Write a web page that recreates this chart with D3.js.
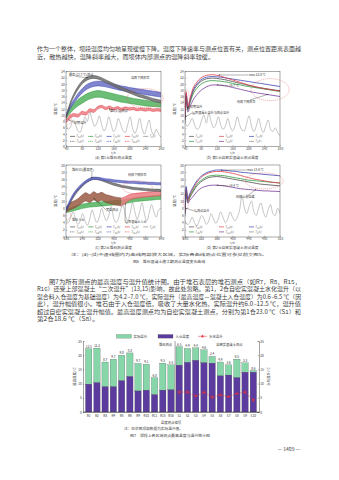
<!DOCTYPE html>
<html><head><meta charset="utf-8">
<script src="https://cdn.jsdelivr.net/npm/d3@7"></script>
<style>body{margin:0;background:#fff}svg{display:block}</style>
</head><body><svg id="c" width="339" height="480"></svg>
<script>
// ---------- DATA ----------
const tA = [40,50,60,70,80,90,100,110,120,130,140,150,160,170,180,190,200,210,220,230,240,250,260,270,280];
const aGrayHi = [9.4,13.9,16.9,19.2,20.9,22.0,22.6,22.7,22.5,22.0,21.4,20.8,20.2,19.6,19.0,18.5,18.0,17.5,17.0,16.6,16.2,15.8,15.4,15.1,14.8];
const aGrayLo = [8.6,13.0,16.0,18.2,19.9,21.0,21.6,21.8,21.6,21.1,20.5,19.9,19.3,18.7,18.1,17.6,17.1,16.6,16.1,15.7,15.3,14.9,14.5,14.2,13.9];
const aBlueHi = [10.4,13.0,15.0,16.9,18.4,19.6,20.3,20.7,20.9,20.8,20.6,20.3,20.0,19.7,19.4,19.2,18.9,18.7,18.5,18.3,18.1,17.9,17.7,17.5,17.3];
const aBlueLo = [9.6,12.0,13.9,15.6,17.0,18.1,18.8,19.2,19.4,19.3,19.1,18.8,18.5,18.2,17.9,17.7,17.4,17.2,17.0,16.8,16.6,16.4,16.2,16.0,15.8];
const aGreenHi = [10.0,12.2,13.8,15.0,15.9,16.7,17.3,17.7,17.9,17.8,17.5,17.2,16.9,16.6,16.3,16.0,15.7,15.4,15.2,15.0,14.8,14.6,14.4,14.2,14.1];
const aGreenLo = [9.0,10.6,11.9,13.0,13.8,14.6,15.2,15.6,15.8,15.7,15.4,15.1,14.8,14.5,14.2,14.0,13.8,13.6,13.4,13.2,13.0,12.9,12.8,12.7,12.6];
const aRedHi = [8.4,10.0,10.6,10.3,11.3,11.0,12.1,11.8,12.8,13.2,12.6,13.0,12.4,12.8,12.3,12.7,12.4,12.6,12.2,12.4,12.1,12.3,12.0,12.2,12.0];
const aRedLo = [7.6,9.0,9.7,9.4,10.3,10.0,11.1,10.9,12.0,12.4,11.8,12.2,11.6,12.0,11.5,11.9,11.6,11.8,11.4,11.6,11.3,11.5,11.2,11.4,11.2];
const tAir = [40,46,52,58,64,70,76,82,88,94,100,106,112,118,124,130,136,142,148,154,160,166,172,178,184,190,196,202,208,214,220,226,232,238,244,250,256,262,268,274,280];
const aAir = [7.0,5.5,6.5,8.5,7.0,5.0,4.5,7.0,9.5,8.0,11.0,8.5,6.5,7.5,9.8,7.0,5.0,6.5,9.5,7.0,4.8,6.0,9.0,7.2,5.0,4.5,7.0,9.5,6.0,4.2,6.0,9.0,5.8,4.0,6.2,8.5,5.0,3.8,5.5,4.0,3.0];

const tB = [40,43,47,52,60,70,80,90,100,110,120,130,140,150,160,170,180,190,200,210,220,230,240,250,260,270,280];
const bRed = [9.0,17.5,12.5,15.0,18.5,20.6,21.9,22.6,22.9,23.0,22.8,22.5,22.1,21.7,21.3,20.9,20.5,20.1,19.7,19.4,19.1,18.8,18.5,18.3,18.1,17.9,17.7];
const bBlue = [8.8,17.0,12.2,14.6,17.9,20.0,21.3,22.0,22.3,22.4,22.3,22.2,22.0,21.8,21.6,21.4,21.2,21.0,20.8,20.6,20.4,20.2,20.0,19.8,19.6,19.4,19.2];
const bGray = [8.6,16.5,12.0,14.2,17.4,19.5,20.8,21.5,21.8,21.9,21.8,21.6,21.4,21.1,20.8,20.5,20.2,19.9,19.6,19.3,19.0,18.8,18.6,18.4,18.2,18.0,17.9];
const bGreen = [8.4,16.0,11.6,13.7,16.6,18.6,19.9,20.6,21.0,21.1,21.0,20.9,20.7,20.5,20.2,19.9,19.7,19.4,19.2,19.0,18.8,18.6,18.4,18.2,18.0,17.8,17.6];
const bPurple = [8.0,15.0,11.0,12.5,14.8,16.6,17.9,18.8,19.4,19.7,19.7,19.6,19.4,19.2,18.9,18.6,18.3,18.0,17.7,17.4,17.2,17.0,16.8,16.6,16.4,16.2,16.0];
const bAir = [8.0,6.5,7.5,9.0,7.0,5.5,6.0,8.5,10.0,7.5,10.5,8.0,6.0,7.0,9.5,7.0,5.5,6.5,9.0,6.5,5.0,6.5,9.5,7.0,5.2,5.0,7.5,9.8,6.5,4.8,6.5,9.0,6.0,4.5,6.5,8.5,5.5,4.8,6.0,4.5,3.5];

const tC = [160,180,200,220,240,260,280,300,320,340,360,380,400,420,440,460,480,500,520,540,560,580,600,620,640];
const cGrayHi = [7.3,9.8,11.8,13.3,14.5,15.5,16.2,16.6,16.5,16.2,15.8,15.4,15.0,14.7,14.4,14.2,14.0,13.8,13.7,13.6,13.5,13.4,13.3,13.3,13.2];
const cGrayLo = [6.7,9.2,11.2,12.7,13.9,14.9,15.6,16.0,15.9,15.6,15.2,14.8,14.4,14.1,13.8,13.6,13.4,13.2,13.1,13.0,12.9,12.8,12.7,12.7,12.6];
const cBlueHi = [7.8,10.3,12.3,13.7,14.8,15.7,16.3,16.6,16.6,16.4,16.2,16.1,15.9,15.8,15.7,15.6,15.5,15.5,15.4,15.3,15.3,15.2,15.2,15.1,15.1];
const cBlueLo = [7.2,9.7,11.7,13.1,14.2,15.1,15.7,16.0,16.0,15.8,15.6,15.5,15.3,15.2,15.1,15.0,14.9,14.9,14.8,14.7,14.7,14.6,14.6,14.5,14.5];
const cGreenHi = [7.6,8.0,8.4,8.8,9.1,9.3,9.5,9.6,9.7,9.8,9.9,10.0,10.1,10.2,10.3,10.5,10.7,10.9,11.1,11.2,11.3,11.4,11.5,11.6,11.7];
const cGreenLo = [6.8,7.0,7.3,7.6,7.9,8.1,8.3,8.4,8.5,8.6,8.7,8.8,8.9,9.0,9.1,9.3,9.5,9.7,9.9,10.0,10.1,10.2,10.3,10.4,10.5];
const tCBrown = [160,180,200,220,240,260,280,300,320,340,360,380,400,420,440];
const cBrownHi = [8.2,9.5,10.0,10.6,11.6,12.3,11.8,12.6,12.0,12.4,11.8,11.5,11.2,11.0,10.8];
const cBrownLo = [7.0,7.6,8.0,8.6,9.4,10.0,9.6,10.3,9.8,10.2,9.6,9.3,9.0,8.8,8.6];
const tCRed = [440,460,480,500,520,540,560,580,600,620,640];
const cRedHi = [10.8,11.2,11.8,12.0,12.2,12.3,12.4,12.5,12.6,12.7,12.8];
const cRedLo = [8.6,9.4,10.2,10.6,10.8,11.0,11.1,11.2,11.3,11.4,11.5];
const tCAir = [160,172,184,196,208,220,232,244,256,268,280,292,304,316,328,340,352,364,376,388,400,412,424,436,448,460,472,484,496,508,520,532,544,556,568,580,592,604,616,628,640];
const cAir = [5.0,4.0,5.5,7.0,5.0,3.5,4.5,6.5,4.5,3.2,5.0,7.5,5.5,4.0,5.5,8.0,6.0,4.5,6.0,8.5,5.5,4.0,5.0,7.5,9.0,6.0,4.5,6.5,9.5,7.0,5.0,7.0,9.5,6.5,4.5,6.5,9.0,7.0,5.5,7.5,8.0];

const tD = [280,283,287,292,300,310,320,330,340,350,360,370,380,390,400,410,420,430,440,450,460,470,480,490,500,510,520];
const dBlue = [7.0,14.0,10.5,12.0,13.8,15.6,16.8,17.6,18.1,18.4,18.6,18.6,18.5,18.4,18.3,18.2,18.0,17.9,17.8,17.7,17.6,17.5,17.4,17.3,17.2,17.1,17.0];
const dRed = [6.8,13.5,10.2,11.6,13.4,15.2,16.5,17.3,17.8,18.1,18.2,18.2,18.1,17.9,17.7,17.4,17.1,16.8,16.5,16.2,16.0,15.8,15.6,15.4,15.2,15.1,15.0];
const dGreen = [6.6,13.0,10.0,11.2,12.9,14.6,15.7,16.4,16.9,17.1,17.2,17.1,17.0,16.8,16.6,16.4,16.2,16.0,15.8,15.7,15.6,15.5,15.4,15.3,15.2,15.1,15.0];
const dGray = [6.4,12.5,9.8,10.9,12.5,14.2,15.3,16.0,16.5,16.7,16.8,16.7,16.5,16.3,16.1,15.9,15.7,15.5,15.3,15.1,14.9,14.7,14.6,14.5,14.4,14.3,14.2];
const dPurple = [6.0,11.5,9.4,10.2,11.2,12.6,13.5,14.0,14.3,14.4,14.4,14.3,14.2,14.0,13.8,13.6,13.4,13.3,13.2,13.1,13.0,12.9,12.8,12.8,12.7,12.7,12.6];
const tDAir = [280,286,292,298,304,310,316,322,328,334,340,346,352,358,364,370,376,382,388,394,400,406,412,418,424,430,436,442,448,454,460,466,472,478,484,490,496,502,508,514,520];
const dAir = [4.5,3.5,4.0,5.5,4.0,3.0,4.5,6.0,5.0,3.5,4.5,6.5,5.0,3.8,5.0,7.0,5.5,4.0,5.0,7.0,5.5,4.5,5.5,7.5,11.5,8.0,6.5,8.5,10.0,7.0,6.0,8.0,9.5,7.0,5.5,7.5,9.0,6.5,6.0,8.0,6.5];

const xTicksA = [40,80,120,160,200,240,280];
const xTicksC = [160,240,320,400,480,560,640];
const xTicksD = [280,320,360,400,440,480,520];
const yTicksA = [0,2,4,6,8,10,12,14,16,18,20,22,24];
const yTicksC = [0,2,4,6,8,10,12,14,16,18,20];

const barCats = ['R1','R2','R3','R4','R5','R6','R9','R10','R11','R15','R16','S1','S2','S3','S4','S5','S6','S7','S8','S9','S10'];
const barInlet = [9.8,10.3,8.9,8.9,11.0,12.5,7.4,7.7,6.1,7.7,7.8,16.5,17.5,18.2,17.3,17.2,12.7,13.0,12.1,14.0,14.0];
const barRise = [12.5,12.2,8.7,9.7,9.0,8.3,9.7,9.1,6.0,9.5,8.8,6.5,4.9,4.4,4.6,2.4,4.9,3.6,6.5,3.3,0.6];
const hydroCats = ['S1','S2','S3','S4','S5','S6','S7','S8','S9','S10'];
const hydroRise = [7.0,7.0,5.6,6.9,5.2,6.0,5.4,6.5,7.0,4.2];
const barTicks = [0,5,10,15,20,25];

// ---------- DRAW ----------
const F = '"Noto Sans CJK SC","Noto Sans",sans-serif';
const svg = d3.select('#c');
const INK = '#3a3a3a';

function txt(x, y, s, size, opts = {}) {
  const t = svg.append('text').attr('x', x).attr('y', y).text(s)
    .attr('font-family', F).attr('font-size', size).attr('fill', opts.fill || INK)
    .attr('text-anchor', opts.anchor || 'start');
  if (opts.len) t.attr('textLength', opts.len).attr('lengthAdjust', 'spacingAndGlyphs');
  if (opts.rot) t.attr('transform', `rotate(-90,${x},${y})`);
  return t;
}

// body text
const BODY = 5.6;
txt(37, 50.5, '作为一个整体，坝段温度均匀地呈现缓慢下降。温度下降速率与测点位置有关，测点位置距离表面越', BODY, {len: 264});
txt(37, 58.5, '近，散热越快，温降斜率越大，而坝体内部测点的温降斜率较缓。', BODY, {len: 177});

const paraY0 = 284, paraDY = 7.4;
txt(49, paraY0, '图7为所有测点的最高温度与温升值统计图。由于堆石表层的堆石测点（如R7，R8，R15，', BODY, {len: 252});
txt(37, paraY0 + paraDY, 'R16）还受上部混凝土“二次温升”[13,15]影响，故此处忽略。第1，2仓自密实混凝土水化温升（以', BODY, {len: 264});
txt(37, paraY0 + 2*paraDY, '混合料入仓温度为基础温度）为4.2~7.0 ℃，实际温升（最高温度－混凝土入仓温度）为0.6~6.5 ℃（因', BODY, {len: 264});
txt(37, paraY0 + 3*paraDY, '此），温升幅值很小。堆石由于入仓温度低，吸收了大量水化热，实际温升约6.0~12.5 ℃，温升值', BODY, {len: 264});
txt(37, paraY0 + 4*paraDY, '超过自密实混凝土温升幅值。最高温度测点均为自密实混凝土测点，分别为第1仓23.0 ℃（S1）和', BODY, {len: 264});
txt(37, paraY0 + 5*paraDY, '第2仓18.6 ℃（S8）。', BODY, {len: 62});

// ---------- line panels ----------
function panel(o) {
  const g = svg.append('g');
  const x = d3.scaleLinear().domain(o.xd).range([o.x0, o.x1]);
  const y = d3.scaleLinear().domain(o.yd).range([o.y1, o.y0]);
  const clipId = 'clip' + o.id;
  svg.append('clipPath').attr('id', clipId).append('rect')
    .attr('x', o.x0).attr('y', o.y0).attr('width', o.x1 - o.x0).attr('height', o.y1 - o.y0);
  const gd = g.append('g').attr('clip-path', `url(#${clipId})`);
  (o.bands || []).forEach(b => {
    const rows = b.t.map((t, i) => ({t, hi: b.hi[i], lo: b.lo[i]}));
    gd.append('path').datum(rows)
      .attr('d', d3.area().x(d => x(d.t)).y0(d => y(d.lo)).y1(d => y(d.hi)).curve(d3.curveMonotoneX))
      .attr('fill', b.fill).attr('fill-opacity', 0.85);
    ['hi', 'lo'].forEach(k => gd.append('path').datum(rows)
      .attr('d', d3.line().x(d => x(d.t)).y(d => y(d[k])).curve(d3.curveMonotoneX))
      .attr('fill', 'none').attr('stroke', b.stroke).attr('stroke-width', 0.5));
  });
  (o.lines || []).forEach(l => {
    const rows = l.t.map((t, i) => ({t, v: l.v[i]}));
    gd.append('path').datum(rows)
      .attr('d', d3.line().x(d => x(d.t)).y(d => y(d.v)).curve(d3.curveMonotoneX))
      .attr('fill', 'none').attr('stroke', l.c).attr('stroke-width', l.w || 0.8);
  });
  g.append('rect').attr('x', o.x0).attr('y', o.y0).attr('width', o.x1 - o.x0).attr('height', o.y1 - o.y0)
    .attr('fill', 'none').attr('stroke', '#444').attr('stroke-width', 0.45);
  const gx = g.append('g').attr('transform', `translate(0,${o.y1})`)
    .call(d3.axisBottom(x).tickValues(o.xt).tickSize(-1.3).tickPadding(1.0).tickFormat(d3.format('d')));
  const gy = g.append('g').attr('transform', `translate(${o.x0},0)`)
    .call(d3.axisLeft(y).tickValues(o.yt).tickSize(-1.3).tickPadding(1.2).tickFormat(d3.format('d')));
  [gx, gy].forEach(a => {
    a.select('.domain').remove();
    a.selectAll('line').attr('stroke', '#444').attr('stroke-width', 0.35);
    a.selectAll('text').attr('font-size', 3.2).attr('fill', '#444').attr('font-family', F);
  });
  txt(o.x0 - 9, (o.y0 + o.y1) / 2, '温度/℃', 3.5, {anchor: 'middle', rot: true, fill: '#444'});
  txt((o.x0 + o.x1) / 2, o.y1 + 7.1, 't/h', 3.2, {anchor: 'middle', fill: '#444'});
  txt((o.x0 + o.x1) / 2, o.y1 + 12.2, o.caption, 3.7, {anchor: 'middle', fill: '#444'});
  const L = o.legend;
  const ly0 = o.y1 - 11.5;
  L.forEach((row, ri) => row.forEach((it, ci) => {
    const lx = o.x0 + 4 + ci * L.colW;
    const lyy = ly0 + 2.4 + ri * 5;
    g.append('line').attr('x1', lx).attr('x2', lx + 5).attr('y1', lyy - 1).attr('y2', lyy - 1)
      .attr('stroke', it.c).attr('stroke-width', 0.7).attr('stroke-dasharray', it.dash ? '1,0.7' : null);
    const t = g.append('text').attr('x', lx + 6).attr('y', lyy).attr('font-family', F)
      .attr('font-size', 3.0).attr('fill', '#444').attr('font-style', 'italic');
    t.append('tspan').text('T');
    t.append('tspan').text(it.s).attr('font-size', 2.1).attr('dy', 0.7);
    t.append('tspan').text('(t)').attr('dy', -0.7);
  }));
  return {x, y, g};
}

const C = {gray: '#4d4d4d', grayF: '#6e6e6e', blue: '#3b45b0', blueF: '#6a70c6', green: '#2f9a3c', greenF: '#52b25e',
  red: '#e0404a', redF: '#ec7c84', brown: '#7a3c2c', brownF: '#9a5a44', air: '#8c8c8c', purple: '#7a3b9a', ann: '#e05a5a'};

function legendRows(rows, colW) { rows.colW = colW; return rows; }

const pA = panel({id: 'a', x0: 66, x1: 161, y0: 71.5, y1: 146.5, xd: [40, 280], yd: [0, 24], xt: xTicksA, yt: yTicksA,
  caption: '(a) 第1仓堆石测点温度',
  bands: [
    {t: tA, hi: aRedHi, lo: aRedLo, fill: C.redF, stroke: C.red},
    {t: tA, hi: aGreenHi, lo: aGreenLo, fill: C.greenF, stroke: C.green},
    {t: tA, hi: aBlueHi, lo: aBlueLo, fill: C.blueF, stroke: C.blue},
    {t: tA, hi: aGrayHi, lo: aGrayLo, fill: C.grayF, stroke: C.gray}],
  lines: [{t: tAir, v: aAir, c: C.air, w: 0.5}],
  legend: legendRows([
    [{s: 'R1', c: C.gray}, {s: 'R2', c: C.green}, {s: 'R3', c: C.blue}, {s: 'R4', c: C.red}, {s: 'a', c: C.air}],
    [{s: 'R5', c: C.gray, dash: 1}, {s: 'R6', c: C.green, dash: 1}, {s: 'R9', c: C.blue, dash: 1}, {s: 'R10', c: C.red, dash: 1}]], 18.3)
});
const pB = panel({id: 'b', x0: 185, x1: 280, y0: 71.5, y1: 146.5, xd: [40, 280], yd: [0, 24], xt: xTicksA, yt: yTicksA,
  caption: '(b) 第1仓自密实混凝土测点温度',
  lines: [
    {t: tB, v: bPurple, c: C.purple}, {t: tB, v: bGreen, c: C.green}, {t: tB, v: bGray, c: C.gray},
    {t: tB, v: bBlue, c: C.blue}, {t: tB, v: bRed, c: C.red}, {t: tAir, v: bAir, c: C.air, w: 0.5}],
  legend: legendRows([
    [{s: 'S1', c: C.gray}, {s: 'S2', c: C.red}, {s: 'S3', c: C.blue}],
    [{s: 'S4', c: C.green}, {s: 'S5', c: C.purple}, {s: 'a', c: C.air}]], 30)
});
const pC = panel({id: 'c', x0: 66, x1: 161, y0: 165, y1: 237, xd: [160, 640], yd: [0, 20], xt: xTicksC, yt: yTicksC,
  caption: '(c) 第2仓堆石测点温度',
  bands: [
    {t: tC, hi: cGreenHi, lo: cGreenLo, fill: C.greenF, stroke: C.green},
    {t: tCBrown, hi: cBrownHi, lo: cBrownLo, fill: C.brownF, stroke: C.brown},
    {t: tCRed, hi: cRedHi, lo: cRedLo, fill: C.redF, stroke: C.red},
    {t: tC, hi: cGrayHi, lo: cGrayLo, fill: C.grayF, stroke: C.gray},
    {t: tC, hi: cBlueHi, lo: cBlueLo, fill: C.blueF, stroke: C.blue}],
  lines: [{t: tCAir, v: cAir, c: C.air, w: 0.5}],
  legend: legendRows([
    [{s: 'R1', c: C.gray}, {s: 'R2', c: C.green}, {s: 'R3', c: C.blue}, {s: 'R4', c: C.red}, {s: 'a', c: C.air}],
    [{s: 'R5', c: C.gray, dash: 1}, {s: 'R6', c: C.green, dash: 1}, {s: 'R9', c: C.blue, dash: 1}, {s: 'R10', c: C.red, dash: 1}]], 18.3)
});
const pD = panel({id: 'd', x0: 185, x1: 280, y0: 165, y1: 237, xd: [280, 520], yd: [0, 20], xt: xTicksD, yt: yTicksC,
  caption: '(d) 第2仓自密实混凝土测点温度',
  lines: [
    {t: tD, v: dPurple, c: C.purple}, {t: tD, v: dGray, c: C.gray}, {t: tD, v: dGreen, c: C.green},
    {t: tD, v: dRed, c: C.red}, {t: tD, v: dBlue, c: C.blue}, {t: tDAir, v: dAir, c: C.air, w: 0.5}],
  legend: legendRows([
    [{s: 'S6', c: C.gray}, {s: 'S7', c: C.red}, {s: 'S8', c: C.blue}],
    [{s: 'S9', c: C.green}, {s: 'S10', c: C.purple}, {s: 'a', c: C.air}]], 30)
});

// annotations
function ell(cx, cy, rx, ry) {
  svg.append('ellipse').attr('cx', cx).attr('cy', cy).attr('rx', rx).attr('ry', ry)
    .attr('fill', 'none').attr('stroke', C.ann).attr('stroke-width', 0.45).attr('stroke-dasharray', '1.2,0.8');
}
function arrow(x1, y1, x2, y2) {
  svg.append('line').attr('x1', x1).attr('y1', y1).attr('x2', x2).attr('y2', y2).attr('stroke', '#222').attr('stroke-width', 0.35);
  const a = Math.atan2(y2 - y1, x2 - x1), s = 1.3;
  svg.append('path').attr('d', `M${x2},${y2}L${x2 - s*Math.cos(a - 0.45)},${y2 - s*Math.sin(a - 0.45)}L${x2 - s*Math.cos(a + 0.45)},${y2 - s*Math.sin(a + 0.45)}Z`).attr('fill', '#222');
}
const A = 3.1;
// (a)
txt(69, 75.5, '最高(22.7 ℃)测点', A); arrow(76, 76.5, pA.x(95), pA.y(22.0));
txt(131, 78.5, '温降下降斜率', A); ell(pA.x(240), pA.y(15.5), 18, 9.5); ell(pA.x(45), pA.y(8.6), 3.2, 5);
txt(110, 112, '第2(1)层测点', A); arrow(110, 111, pA.x(150), pA.y(12.2));
txt(74, 123.5, '初期温升', A); arrow(74, 122.5, pA.x(46), pA.y(8.6));
// (b)
txt(249, 76, 'max 23.0 ℃', A); arrow(248.5, 75, pB.x(125), pB.y(22.9));
txt(229, 86.5, '19.7 ℃', A); arrow(228.5, 85.5, pB.x(120), pB.y(19.7));
ell(pB.x(255), pB.y(18.2), 19, 11); txt(237, 103, '局部下降斜率', A); arrow(250, 100, pB.x(250), pB.y(16.7));
ell(pB.x(44), pB.y(15), 2.8, 10);
txt(190, 107.5, '初期温升', A); arrow(190, 106.5, pB.x(45), pB.y(12.5));
txt(192, 114, '层面混凝土温升与测点温升', A); arrow(192, 113, pB.x(41), pB.y(9.5));
// (c)
txt(72, 171, '堆石SO(最高值)', A); arrow(92, 172, pC.x(290), pC.y(16.3));
txt(128, 176, '局部下降斜率', A); ell(pC.x(520), pC.y(13.8), 15, 6.5);
txt(106, 211, '宽温测点', A); arrow(106, 210, pC.x(300), pC.y(10.8));
ell(pC.x(170), pC.y(6), 2.8, 4); txt(72, 220.5, '堆石入仓', A);
txt(125, 222.5, '层面混凝土入仓', A); arrow(125, 221.5, pC.x(460), pC.y(9.3));
// (d)
txt(247, 171, 'max 18.6 ℃', A); arrow(246.5, 170, pD.x(370), pD.y(18.6));
txt(229, 187, '14.4 ℃', A); arrow(228.5, 186, pD.x(360), pD.y(14.4));
ell(pD.x(480), pD.y(15.6), 19, 8);
txt(236, 198, '局部上游温峰', A); arrow(248, 195.5, pD.x(460), pD.y(13.3));
ell(pD.x(283), pD.y(10), 2.8, 8);
txt(194, 212, 'S₈测点温升', A); arrow(194, 211, pD.x(283), pD.y(8));

// figure 6 note + title
txt(169, 255.5, '注：(a)~(d)中虚线圈内为曲线局部放大区域，实际各曲线测点位置可参见前文图5。', 3.7, {anchor: 'middle', len: 196, fill: '#444'});
txt(169, 262.5, '图6　堆石混凝土施工期测点温度变化曲线', 3.9, {anchor: 'middle', fill: '#444'});

// ---------- bar chart ----------
const bx = d3.scaleBand().domain(barCats).range([83, 259]).paddingInner(0.22).paddingOuter(0.3);
const by = d3.scaleLinear().domain([0, 25]).range([412, 341]);
const gb = svg.append('g');
const rows = barCats.map((c, i) => ({c, inlet: barInlet[i], rise: barRise[i]}));
gb.selectAll('.g').data(rows).join('rect')
  .attr('x', d => bx(d.c)).attr('width', bx.bandwidth())
  .attr('y', d => by(d.inlet + d.rise)).attr('height', d => by(d.inlet) - by(d.inlet + d.rise))
  .attr('fill', '#86d6aa').attr('stroke', '#333').attr('stroke-width', 0.2);
gb.selectAll('.p').data(rows).join('rect')
  .attr('x', d => bx(d.c)).attr('width', bx.bandwidth())
  .attr('y', d => by(d.inlet)).attr('height', d => by(0) - by(d.inlet))
  .attr('fill', '#5b3c9e').attr('stroke', '#333').attr('stroke-width', 0.2);
gb.selectAll('.lbl').data(rows).join('text')
  .attr('x', d => bx(d.c) + bx.bandwidth() / 2).attr('y', d => by(d.inlet + d.rise) - 1)
  .attr('text-anchor', 'middle').attr('font-size', 3.1).attr('font-family', F).attr('fill', '#333')
  .text(d => d.rise.toFixed(1));
const hrows = hydroCats.map((c, i) => ({c, v: hydroRise[i]}));
gb.append('path').datum(hrows)
  .attr('d', d3.line().x(d => bx(d.c) + bx.bandwidth() / 2).y(d => by(d.v)))
  .attr('fill', 'none').attr('stroke', '#e0303c').attr('stroke-width', 0.5).attr('stroke-dasharray', '1.5,0.6');
gb.selectAll('.hp').data(hrows).join('path')
  .attr('transform', d => `translate(${bx(d.c) + bx.bandwidth() / 2},${by(d.v)})`)
  .attr('d', d3.symbol(d3.symbolStar, 5)).attr('fill', '#e0303c');
const gxl = gb.append('g').attr('transform', 'translate(0,412)').call(d3.axisBottom(bx).tickSize(0).tickPadding(2.3));
const gyl = gb.append('g').attr('transform', 'translate(83,0)').call(d3.axisLeft(by).tickValues(barTicks).tickSize(-1.3).tickPadding(1.3));
const gyr = gb.append('g').attr('transform', 'translate(259,0)').call(d3.axisRight(by).tickValues(barTicks).tickSize(-1.3).tickPadding(1.3));
[gxl, gyl, gyr].forEach(a => {
  a.select('.domain').attr('stroke', '#333').attr('stroke-width', 0.45);
  a.selectAll('line').attr('stroke', '#333').attr('stroke-width', 0.35);
  a.selectAll('text').attr('font-size', 3.2).attr('fill', '#333').attr('font-family', F);
});
gb.append('line').attr('x1', 83).attr('x2', 259).attr('y1', 412).attr('y2', 412).attr('stroke', '#333').attr('stroke-width', 0.45);
const divX = (bx('R16') + bx.bandwidth() + bx('S1')) / 2;
gb.append('line').attr('x1', divX).attr('x2', divX).attr('y1', 341).attr('y2', 412).attr('stroke', '#333').attr('stroke-width', 0.45);
txt(divX - 3, 345.5, '堆石测点', 3.3, {anchor: 'end'});
txt(bx('S6') - 1, 345.5, '自密实混凝土测点', 3.3);
txt(76, 376.5, '最高温度/℃', 3.4, {anchor: 'middle', rot: true});
txt(270, 376.5, '水化温升/℃', 3.4, {anchor: 'middle', rot: true});
txt(171, 423.5, '温度测点编号', 3.4, {anchor: 'middle'});
gb.append('rect').attr('x', 116.5).attr('y', 334.5).attr('width', 15).attr('height', 3.6).attr('fill', '#86d6aa').attr('stroke', '#333').attr('stroke-width', 0.2);
txt(133.5, 337.6, '实际温升', 3.4);
gb.append('rect').attr('x', 158).attr('y', 334.5).attr('width', 15).attr('height', 3.6).attr('fill', '#5b3c9e').attr('stroke', '#333').attr('stroke-width', 0.2);
txt(175.5, 337.6, '入仓温度', 3.4);
gb.append('line').attr('x1', 198).attr('x2', 207).attr('y1', 336.3).attr('y2', 336.3).attr('stroke', '#e0303c').attr('stroke-width', 0.5);
gb.append('path').attr('transform', 'translate(202.5,336.3)').attr('d', d3.symbol(d3.symbolStar, 5)).attr('fill', '#e0303c');
txt(209, 337.6, '水化温升', 3.4);

txt(124, 430, '注：柱状图顶部数据为实际温升值。', 3.7, {fill: '#444'});
txt(170, 437, '图7　坝段上各区域测点最高温度与温升统计图', 3.9, {anchor: 'middle', fill: '#444'});
txt(300, 450.5, '— 1409 —', 5.0, {anchor: 'end'});
</script>
</body></html>
